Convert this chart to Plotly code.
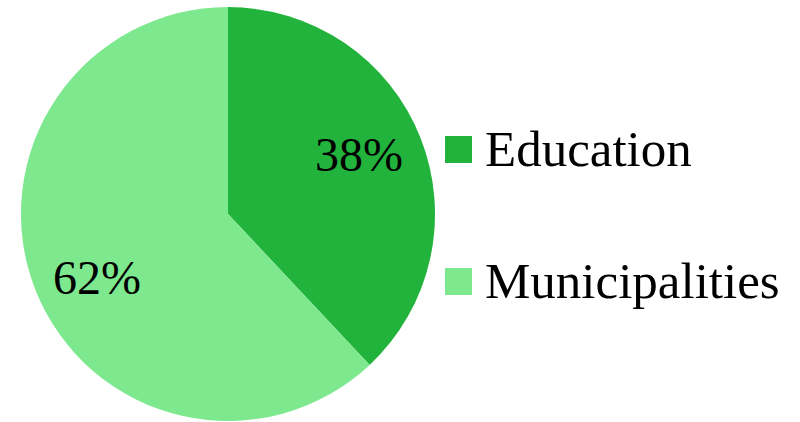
import math
import plotly.graph_objects as go

labels = ["Education", "Municipalities"]
values = [38, 62]
colors = ["#22B33C", "#7DE88D"]

W, H = 800, 422
FONT = "Liberation Serif, Times New Roman, serif"

# pie geometry (pixels)
CX, CY, R = 228, 214, 207
LABEL_R = 0.70          # label distance as a fraction of the radius
LABEL_ROT = math.radians(-3.5)  # small counter-clockwise shift of label placement

fig = go.Figure()
fig.add_trace(go.Pie(
    labels=labels,
    values=values,
    sort=False,
    direction="clockwise",
    rotation=0,
    marker=dict(colors=colors, line=dict(width=0)),
    textinfo="none",
    domain=dict(x=[(CX - R) / W, (CX + R) / W], y=[1 - (CY + R) / H, 1 - (CY - R) / H]),
    showlegend=False,
    hoverinfo="label+percent",
))

# percentage labels along each slice's mid-angle (computed from data)
total = sum(values)
cum = 0
for v in values:
    mid = (cum + v / 2) / total * 2 * math.pi + LABEL_ROT  # clockwise from 12 o'clock
    cum += v
    px = CX + LABEL_R * R * math.sin(mid)
    py = CY - LABEL_R * R * math.cos(mid)
    fig.add_annotation(x=px / W, y=1 - (py + 2) / H, xref="paper", yref="paper",
                       text=f"{round(v / total * 100)}%", showarrow=False,
                       xanchor="center", yanchor="middle",
                       font=dict(family=FONT, size=48, color="black"))

# custom legend (large squares as in the reference)
leg_y = [149.5, 281.5]
for lab, col, yc in zip(labels, colors, leg_y):
    fig.add_shape(type="rect", xref="paper", yref="paper",
                  x0=445 / W, x1=472 / W,
                  y0=1 - (yc + 13.5) / H, y1=1 - (yc - 13.5) / H,
                  fillcolor=col, line=dict(width=0))
    fig.add_annotation(x=483 / W, y=1 - (yc - 1) / H, xref="paper", yref="paper",
                       text=lab, showarrow=False, xanchor="left", yanchor="middle",
                       font=dict(family=FONT, size=51, color="black"))

fig.update_layout(
    width=W, height=H,
    margin=dict(l=0, r=0, t=0, b=0),
    paper_bgcolor="white",
    plot_bgcolor="white",
)

fig.write_html("out.html")
